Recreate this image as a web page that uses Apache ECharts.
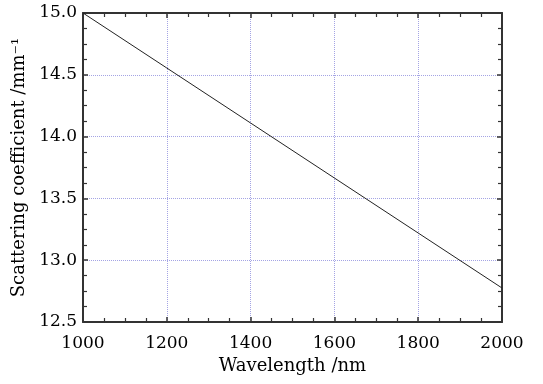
<!DOCTYPE html>
<html>
<head>
<meta charset="utf-8">
<script src="https://cdn.jsdelivr.net/npm/echarts@6/dist/echarts.min.js"></script>
<style>
  html, body { margin: 0; padding: 0; background: #fff; }
  #chart { width: 543px; height: 384px; }
</style>
</head>
<body>
<div id="chart"></div>
<script>
const wavelength = [1000, 1200, 1400, 1600, 1800, 2000];
const scattering = [15.0, 14.555, 14.11, 13.665, 13.22, 12.775];

const font = "DejaVu Serif";
const frame = "#333";
const gridColor = "#a4a4e4";

const chart = echarts.init(document.getElementById("chart"));

const xBase = {
  type: "value",
  min: 1000,
  max: 2000,
  interval: 200,
  axisLine: { show: true, onZero: false, lineStyle: { color: frame, width: 2 } },
  axisTick: { show: true, inside: true, length: 5, lineStyle: { color: frame, width: 1.5 } },
  minorTick: { show: true, splitNumber: 4, length: 4, lineStyle: { color: frame, width: 1.2 } },
};
const yBase = {
  type: "value",
  min: 12.5,
  max: 15.0,
  interval: 0.5,
  axisLine: { show: true, onZero: false, lineStyle: { color: frame, width: 2 } },
  axisTick: { show: true, inside: true, length: 5, lineStyle: { color: frame, width: 1.5 } },
  minorTick: { show: true, splitNumber: 4, length: 4, lineStyle: { color: frame, width: 1.2 } },
};

chart.setOption({
  animation: false,
  grid: { left: 83, top: 13, right: 41, bottom: 62, containLabel: false },
  xAxis: [
    Object.assign({}, xBase, {
      position: "bottom",
      name: "Wavelength /nm",
      nameLocation: "middle",
      nameGap: 31,
      nameTextStyle: { fontFamily: font, fontSize: 18, color: "#000" },
      axisLabel: {
        fontFamily: font, fontSize: 17, color: "#000", margin: 13,
        formatter: v => String(v)
      },
      splitLine: { show: true, lineStyle: { color: gridColor, type: "dotted", width: 1 } },
    }),
    Object.assign({}, xBase, {
      position: "top",
      axisLabel: { show: false },
      splitLine: { show: false },
    }),
  ],
  yAxis: [
    Object.assign({}, yBase, {
      position: "left",
      name: "Scattering coefficient /mm⁻¹",
      nameLocation: "middle",
      nameGap: 52,
      nameTextStyle: { fontFamily: font, fontSize: 18, color: "#000" },
      axisLabel: {
        fontFamily: font, fontSize: 17, color: "#000", margin: 6,
        formatter: v => v.toFixed(1)
      },
      splitLine: { show: true, lineStyle: { color: gridColor, type: "dotted", width: 1 } },
    }),
    Object.assign({}, yBase, {
      position: "right",
      axisLabel: { show: false },
      splitLine: { show: false },
    }),
  ],
  series: [{
    type: "line",
    data: wavelength.map((w, i) => [w, scattering[i]]),
    symbol: "none",
    lineStyle: { color: "#222", width: 1 },
    xAxisIndex: 0,
    yAxisIndex: 0,
  }],
});
</script>
</body>
</html>
